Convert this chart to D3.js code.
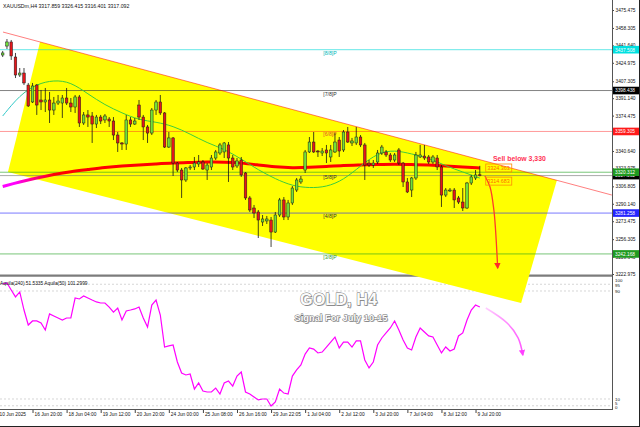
<!DOCTYPE html>
<html><head><meta charset="utf-8">
<script src="https://cdn.jsdelivr.net/npm/d3@7"></script>
<style>body{margin:0;background:#fff}svg{display:block}text{font-family:"Liberation Sans",Arial,sans-serif}</style>
</head><body><svg id="c" width="640" height="427"></svg>
<script>
// ---------- DATA ----------
const opens = [3432.4,3441.0,3444.9,3430.5,3413.3,3415.2,3403.7,3387.5,3403.7,3389.4,
3387.5,3389.4,3379.8,3386.5,3386.5,3391.3,3386.5,3382.7,3392.3,3367.4,
3375.1,3374.1,3366.4,3373.1,3370.3,3371.2,3369.3,3355.9,3348.3,3347.3,
3370.3,3366.4,3384.6,3373.1,3363.6,3357.8,3379.8,3387.5,3377.0,3344.4,
3353.1,3329.1,3322.4,3312.9,3324.4,3325.3,3328.2,3330.1,3322.4,3325.3,
3333.9,3338.7,3339.7,3346.4,3333.9,3326.3,3332.0,3319.6,3295.7,3286.1,
3282.3,3272.7,3273.7,3274.6,3263.1,3279.4,3293.8,3277.5,3290.9,3303.3,
3311.0,3322.4,3339.7,3349.2,3340.6,3338.7,3341.6,3334.9,3339.7,3351.1,
3341.6,3358.8,3348.3,3348.3,3354.0,3346.4,3329.1,3327.2,3330.1,3338.7,
3339.7,3336.8,3332.0,3341.6,3329.1,3311.0,3303.3,3314.8,3334.9,3335.8,
3334.9,3330.1,3333.9,3325.3,3298.5,3302.4,3303.3,3295.7,3291.8,3286.1,
3310.0,3314.8,3317.859];
const highs = [3436.3,3447.7,3446.8,3434.4,3420.0,3420.0,3405.7,3405.7,3404.7,3399.0,
3400.9,3397.1,3392.3,3394.2,3394.2,3400.9,3391.3,3394.2,3394.2,3377.9,
3379.8,3377.9,3375.1,3375.1,3376.0,3373.1,3373.1,3358.8,3349.2,3375.1,
3373.1,3372.2,3389.4,3375.1,3365.5,3381.7,3389.4,3394.2,3377.9,3358.8,
3354.0,3330.1,3324.4,3325.3,3327.2,3334.9,3336.8,3332.0,3329.1,3336.8,
3341.6,3348.3,3349.2,3349.2,3336.8,3333.9,3334.9,3320.5,3297.6,3289.0,
3284.2,3279.4,3278.5,3277.5,3282.3,3295.7,3296.6,3293.8,3307.1,3314.8,
3316.7,3341.6,3354.0,3358.8,3341.6,3343.5,3346.4,3346.4,3357.8,3354.0,
3360.7,3363.6,3353.1,3363.6,3355.9,3348.3,3332.0,3332.0,3341.6,3346.4,
3341.6,3338.7,3338.7,3343.5,3330.1,3314.8,3315.8,3339.7,3346.4,3346.4,
3336.8,3336.8,3336.8,3327.2,3305.2,3305.2,3305.2,3297.6,3305.2,3311.0,
3317.7,3322.4,3326.415];
const lows = [3430.5,3438.2,3427.7,3410.4,3411.4,3403.7,3382.7,3386.5,3375.1,3379.8,
3377.9,3367.4,3375.1,3384.6,3372.2,3384.6,3377.9,3377.0,3363.6,3365.5,
3363.6,3348.3,3362.6,3366.4,3367.4,3363.6,3351.1,3339.7,3341.6,3341.6,
3363.6,3365.5,3370.3,3351.1,3348.3,3355.9,3375.1,3375.1,3343.5,3343.5,
3316.7,3320.5,3295.7,3311.0,3322.4,3322.4,3325.3,3322.4,3312.9,3322.4,
3332.0,3336.8,3333.9,3311.0,3322.4,3324.4,3315.8,3293.8,3282.3,3276.5,
3257.4,3268.9,3270.8,3248.8,3262.2,3277.5,3274.6,3274.6,3289.0,3301.4,
3309.1,3319.6,3338.7,3338.7,3334.9,3335.8,3329.1,3330.1,3338.7,3334.9,
3339.7,3348.3,3345.4,3346.4,3344.4,3312.9,3325.3,3324.4,3328.2,3336.8,
3334.9,3330.1,3330.1,3327.2,3306.2,3300.4,3296.6,3312.9,3333.9,3332.0,
3328.2,3328.2,3322.4,3287.1,3296.6,3301.4,3286.1,3289.9,3283.2,3285.1,
3308.1,3312.9,3316.401];
const closes = [3434.4,3444.9,3431.5,3413.3,3415.2,3405.7,3383.7,3402.8,3384.6,3387.5,
3389.4,3379.8,3386.5,3388.4,3391.3,3386.5,3382.7,3392.3,3367.4,3375.1,
3373.1,3366.4,3373.1,3369.3,3374.1,3369.3,3355.9,3348.3,3347.3,3370.3,
3366.4,3369.3,3373.1,3363.6,3357.8,3379.8,3387.5,3377.0,3344.4,3353.1,
3329.1,3322.4,3312.9,3324.4,3325.3,3329.1,3330.1,3323.4,3327.2,3333.9,
3339.7,3346.4,3348.3,3333.9,3325.3,3331.1,3317.7,3295.7,3284.2,3281.3,
3274.6,3275.6,3275.6,3263.1,3279.4,3293.8,3277.5,3290.9,3305.2,3312.9,
3313.8,3339.7,3349.2,3339.7,3339.7,3340.6,3338.7,3341.6,3349.2,3340.6,
3358.8,3349.2,3350.2,3354.0,3346.4,3327.2,3327.2,3329.1,3338.7,3344.4,
3336.8,3332.0,3336.8,3329.1,3311.0,3301.4,3314.8,3336.8,3336.8,3333.9,
3330.1,3334.9,3325.3,3298.5,3303.3,3303.3,3293.8,3291.8,3286.1,3310.0,
3315.8,3317.7,3317.092];

const maIdx = [0,4,8,12,16,20,24,28,32,36,40,44,48,52,56,60,64,68,72,76,80,84,88,92,96,100,104,108,112];
const maFast = [3374.1,3394.2,3404.7,3408.5,3406.6,3395.2,3384.6,3377.0,3370.3,3368.4,3364.5,3356.9,3348.3,3342.5,3333.0,3322.5,3313.9,3307.2,3305.2,3306.2,3312.9,3326.3,3338.7,3341.6,3337.8,3334.0,3326.3,3320.6,3314.7];
const maSlow = [3306.7,3311.0,3314.8,3318.2,3321.0,3322.9,3324.9,3326.3,3327.2,3328.2,3329.2,3329.6,3330.1,3330.1,3329.2,3327.2,3325.3,3324.4,3324.9,3325.8,3326.8,3327.2,3327.7,3328.2,3327.7,3327.2,3326.3,3325.3,3324.4];
const maLabels = [3324.363,3314.683];

const rsi = [95.2,95.9,90.7,85.6,89.3,75.9,64.8,67.8,67.8,66.3,
61.1,73.0,71.5,70.0,68.5,70.0,70.0,84.8,84.1,86.3,
84.8,83.3,81.9,81.1,81.1,78.1,74.4,77.4,68.5,75.2,
75.9,76.7,78.1,70.0,63.3,79.6,83.3,72.2,48.5,49.3,
50.0,37.4,29.3,27.8,28.5,17.4,21.9,15.9,15.2,15.2,
18.1,13.7,21.9,23.3,19.6,27.0,30.0,15.2,13.7,11.5,
9.3,10.0,10.0,4.8,7.8,17.4,14.4,13.7,27.0,31.5,
35.2,43.3,47.8,47.0,44.1,44.8,48.5,52.2,55.9,47.8,
52.2,52.2,48.5,53.0,53.0,38.9,33.0,37.4,50.0,55.2,
58.9,62.6,67.8,61.1,53.7,47.8,46.3,55.9,62.6,59.6,
56.7,55.9,50.0,44.1,48.5,45.6,47.0,56.7,58.9,68.5,
75.9,79.6,78.1];

const priceTicks = [3475.475,3458.305,3441.640,3424.975,3407.305,3391.140,3374.475,3340.640,3323.975,3306.805,3290.140,3273.475,3256.305,3239.640,3222.975];
const levelNames = ["[8/8]P","[7/8]P","[6/8]P","[5/8]P","[4/8]P","[3/8]P"];
const levelValues = [3437.508,3398.438,3359.305,3320.312,3281.258,3242.168];
const levelColors = ["#00d8d8","#303030","#ff2020","#20a020","#2020ff","#20a020"];
const levelBoxColors = ["#00e0e0","#000000","#ff1a1a","#1f9a1f","#2424ff","#1f9a1f"];
const rsiLevels = [95,90,10,5];
const rsiLabels = ["100","95","90","10","5","0"];
const dateIdx = [-1.2,7,15,23,31,39,47,55,63,71,79,87,95,103,111];
const dateLabels = ["10 Jun 2025","16 Jun 20:00","18 Jun 04:00","19 Jun 12:00","20 Jun 20:00","24 Jun 00:00","25 Jun 08:00","26 Jun 16:00","29 Jun 22:05","1 Jul 04:00","2 Jul 12:00","3 Jul 20:00","7 Jul 04:00","8 Jul 12:00","9 Jul 20:00"];
// drawn objects in (bar index, price) terms
const trendPts = [[0.07,3454.4],[143.0,3298.5]];
const channelPts = [[8.76,3444.9],[130.1,3312.6],[121.7,3195.2],[1.24,3320.5]];
const sellArrow = [[113.2,3316.7],[114.4,3306.2],[115.3,3284.2],[115.7,3265.1],[116.2,3228.7]];
const rsiArrow = [[113.4,77.4],[118.4,66.3],[121.0,55.2],[122.1,42.6]];

// ---------- SCALES ----------
const W=640,H=427,AX=612;
const svg=d3.select('#c');
const x=d3.scaleLinear().domain([0,112]).range([2.7,479.8]);
const y=d3.scaleLinear().domain([3222.975,3475.475]).range([274,10]);
const yr=d3.scaleLinear().domain([0,100]).range([412.5,277.5]);
const idx=d3.range(opens.length);

svg.append('rect').attr('width',W).attr('height',H).attr('fill','#fff');
const defs=svg.append('defs');
const g1=defs.append('linearGradient').attr('id','gSlow').attr('gradientUnits','userSpaceOnUse').attr('x1',15).attr('x2',55).attr('y1',0).attr('y2',0);
g1.append('stop').attr('offset',0).attr('stop-color','#ff00ff');
g1.append('stop').attr('offset',1).attr('stop-color','#ff0000');
const g2=defs.append('linearGradient').attr('id','gFast').attr('gradientUnits','userSpaceOnUse').attr('x1',15).attr('x2',38).attr('y1',0).attr('y2',0);
g2.append('stop').attr('offset',0).attr('stop-color','#30c8c8');
g2.append('stop').attr('offset',1).attr('stop-color','#3ccc3c');
const g3=defs.append('linearGradient').attr('id','gRsiA').attr('gradientUnits','userSpaceOnUse').attr('x1',485).attr('x2',525).attr('y1',0).attr('y2',0);
g3.append('stop').attr('offset',0).attr('stop-color','#ffd0ff');
g3.append('stop').attr('offset',1).attr('stop-color','#ff50ff');
defs.append('marker').attr('id','mRed').attr('viewBox','0 0 10 10').attr('refX',8).attr('refY',5)
  .attr('markerWidth',5).attr('markerHeight',5).attr('orient','auto')
  .append('path').attr('d','M0,0L10,5L0,10Z').attr('fill','#ff2a2a');
defs.append('marker').attr('id','mPink').attr('viewBox','0 0 10 10').attr('refX',8).attr('refY',5)
  .attr('markerWidth',4).attr('markerHeight',4).attr('orient','auto')
  .append('path').attr('d','M0,0L10,5L0,10Z').attr('fill','#ff40ff');

// RSI grid
svg.selectAll('line.rl').data(rsiLevels).join('line').attr('class','rl')
  .attr('x1',0).attr('x2',AX).attr('y1',d=>yr(d)).attr('y2',d=>yr(d))
  .attr('stroke','#c4c4c4').attr('stroke-width',0.7).attr('stroke-dasharray','2,2');
// panel separators
svg.append('line').attr('x1',0).attr('x2',AX).attr('y1',275.6).attr('y2',275.6).attr('stroke','#7c7c7c').attr('stroke-width',2.4);
svg.append('line').attr('x1',0).attr('x2',AX).attr('y1',409.5).attr('y2',409.5).attr('stroke','#555').attr('stroke-width',1);

// yellow channel
const pl=d3.line().x(d=>x(d[0])).y(d=>y(d[1]));
svg.append('path').attr('d',pl(channelPts)+'Z').attr('fill','#ffff00');

// level lines
svg.selectAll('line.lv').data(levelValues).join('line').attr('class','lv')
  .attr('x1',0).attr('x2',AX).attr('y1',d=>y(d)).attr('y2',d=>y(d))
  .attr('stroke',(d,i)=>levelColors[i]).attr('stroke-width',1).attr('stroke-opacity',(d,i)=>i==2?0.45:0.6);
// bid line
svg.append('line').attr('x1',0).attr('x2',AX).attr('y1',y(closes[closes.length-1])).attr('y2',y(closes[closes.length-1]))
  .attr('stroke','#707070').attr('stroke-opacity',0.6).attr('stroke-width',1);
// level labels
svg.selectAll('text.lvt').data(levelValues).join('text').attr('class','lvt')
  .attr('x',330).attr('y',(d,i)=>y(d)+(i==3?6.5:5)).attr('text-anchor','middle')
  .attr('font-size',5.2).attr('fill',(d,i)=>i==0?'#00b8b8':i==2?'#e0502a':i==5?'#2a9a2a':'#333')
  .text((d,i)=>levelNames[i]);

// trendline
svg.append('path').attr('d',pl(trendPts)).attr('stroke','#ff0000').attr('stroke-opacity',0.5).attr('stroke-width',1).attr('fill','none');

// moving averages
const maLine=d3.line().x((d,i)=>x(maIdx[i])).y(d=>y(d)).curve(d3.curveBasis);
svg.append('path').attr('d',maLine(maSlow)).attr('stroke','url(#gSlow)').attr('stroke-width',3).attr('fill','none');
svg.append('path').attr('d',maLine(maFast)).attr('stroke','url(#gFast)').attr('stroke-width',1).attr('fill','none');

// candles
const bw=2.6;
svg.selectAll('line.wk').data(idx).join('line').attr('class','wk')
  .attr('x1',i=>x(i)).attr('x2',i=>x(i)).attr('y1',i=>y(highs[i])).attr('y2',i=>y(lows[i]))
  .attr('stroke','#151515').attr('stroke-width',0.8);
svg.selectAll('rect.cb').data(idx).join('rect').attr('class','cb')
  .attr('x',i=>x(i)-bw/2).attr('width',bw)
  .attr('y',i=>y(Math.max(opens[i],closes[i])))
  .attr('height',i=>Math.max(0.9,Math.abs(y(opens[i])-y(closes[i]))))
  .attr('fill',i=>closes[i]>=opens[i]?'#6fe03a':'#e4161b')
  .attr('stroke','#1c1c1c').attr('stroke-width',0.5);

// RSI line
const rl=d3.line().x((d,i)=>x(i)).y(d=>yr(d));
svg.append('path').attr('d',rl(rsi)).attr('stroke','#ff00ff').attr('stroke-width',1.2).attr('fill','none');

// arrows
const cl=d3.line().x(d=>x(d[0])).y(d=>y(d[1])).curve(d3.curveCatmullRom);
svg.append('path').attr('d',cl(sellArrow)).attr('stroke','#ff3a2a').attr('stroke-width',1.3).attr('fill','none').attr('marker-end','url(#mRed)');
const cr=d3.line().x(d=>x(d[0])).y(d=>yr(d[1])).curve(d3.curveCatmullRom);
svg.append('path').attr('d',cr(rsiArrow)).attr('stroke','url(#gRsiA)').attr('stroke-width',1.6).attr('fill','none').attr('marker-end','url(#mPink)');

// MA value labels
const mlg=svg.selectAll('g.ml').data(maLabels).join('g').attr('class','ml')
  .attr('transform',d=>`translate(${x(113.4)},${y(d)+(d<3320?3:0)})`);
mlg.append('rect').attr('x',0).attr('y',-4).attr('width',26).attr('height',8).attr('fill','none').attr('stroke','#ff8a00').attr('stroke-width',0.8);
mlg.append('text').attr('x',1.5).attr('y',2).attr('font-size',5.4).attr('fill','#ff6a00').text(d=>d.toFixed(3));

// Sell text
svg.append('text').attr('x',x(115.1)).attr('y',y(3331.5)).attr('font-size',6.9).attr('font-weight','bold').attr('fill','#ff3355').text('Sell below 3,330');

// price axis
const ax=svg.append('g').attr('transform',`translate(${AX},0)`)
  .call(d3.axisRight(y).tickValues(priceTicks).tickSize(2).tickPadding(1.5).tickFormat(d3.format('.3f')));
ax.select('.domain').remove();
ax.selectAll('text').attr('font-size',4.8).attr('fill','#111').attr('font-family','Liberation Sans, Arial, sans-serif');
ax.selectAll('line').attr('stroke','#444');
svg.append('line').attr('x1',AX+0.5).attr('x2',AX+0.5).attr('y1',0).attr('y2',410).attr('stroke','#555').attr('stroke-width',1);

// rsi axis labels (stacked like the platform does near the panel edges)
const rsiLabY=[282,286.6,292.8,400.6,404.8,409];
svg.selectAll('text.rs').data(rsiLabels).join('text').attr('class','rs')
  .attr('x',AX+3).attr('y',(d,i)=>rsiLabY[i]).attr('font-size',4.4).attr('fill','#111').text(d=>d);

// price boxes
const boxes=[{v:closes[closes.length-1],c:'#000'}].concat(levelValues.map((v,i)=>({v:v,c:levelBoxColors[i]})));
const bg=svg.selectAll('g.pb').data(boxes).join('g').attr('class','pb').attr('transform',d=>`translate(${AX+1},${y(d.v)})`);
bg.append('rect').attr('x',0).attr('y',-3.8).attr('width',27).attr('height',7.6).attr('fill',d=>d.c);
bg.append('text').attr('x',2).attr('y',1.8).attr('font-size',4.8).attr('fill','#fff').text(d=>d.v.toFixed(3));

// date axis
const dx=svg.append('g').attr('transform','translate(0,410)')
  .call(d3.axisBottom(x).tickValues(dateIdx).tickSize(3).tickFormat((d,i)=>dateLabels[i]));
dx.select('.domain').remove();
dx.selectAll('line').attr('stroke','#444');
dx.selectAll('text').attr('text-anchor','start').attr('dx',1.5).attr('dy',-0.3).attr('font-size',4.8).attr('fill','#111').attr('font-family','Liberation Sans, Arial, sans-serif');

// headers
svg.append('text').attr('x',3).attr('y',8).attr('font-size',5.2).attr('fill','#111')
  .text('XAUUSDm,H4  '+[opens[112],highs[112],lows[112],closes[112]].map(d=>d.toFixed(3)).join(' '));
svg.append('text').attr('x',0).attr('y',285).attr('font-size',4.8).attr('fill','#111').text('Aquila(240) 51.5335  Aquila(50) 101.2999');

// title texts
function fancy(t,cx,cy,fs,len){
  svg.append('text').attr('x',cx+1).attr('y',cy+1).attr('text-anchor','middle').attr('font-size',fs).attr('font-weight','bold')
    .attr('textLength',len).attr('lengthAdjust','spacingAndGlyphs').attr('fill','#b0b0b0').text(t);
  svg.append('text').attr('x',cx).attr('y',cy).attr('text-anchor','middle').attr('font-size',fs).attr('font-weight','bold')
    .attr('textLength',len).attr('lengthAdjust','spacingAndGlyphs')
    .attr('fill','#fbfbfb').attr('stroke','#6e6e6e').attr('stroke-width',0.9).attr('paint-order','stroke').text(t);
}
fancy('GOLD, H4',338.5,304.5,17,77);
fancy('Signal For July 10-15',341,321,9.5,93);

// frame
svg.append('line').attr('x1',639.5).attr('x2',639.5).attr('y1',0).attr('y2',H).attr('stroke','#222');
svg.append('line').attr('x1',0).attr('x2',W).attr('y1',426.5).attr('y2',426.5).attr('stroke','#222');
</script></body></html>
